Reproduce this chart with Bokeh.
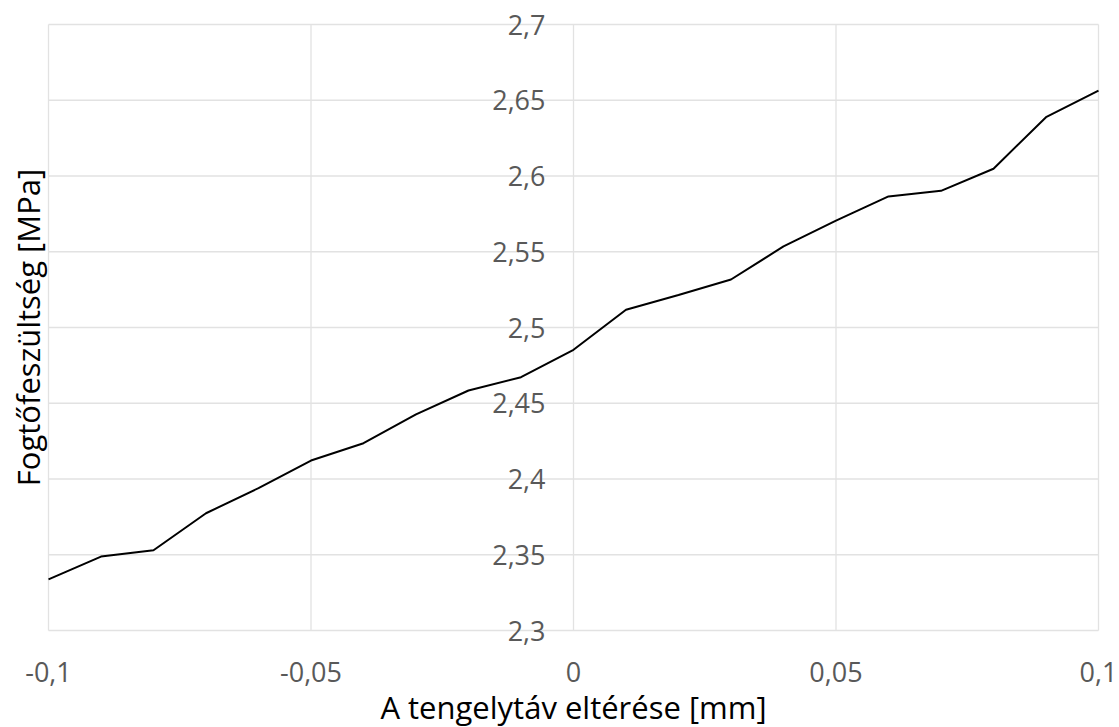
import math
from bokeh.plotting import figure
from bokeh.models import FixedTicker, CustomJSTickFormatter, Range1d, Label
from bokeh.embed import file_html
from bokeh.resources import INLINE

x_values = [-0.1, -0.09, -0.08, -0.07, -0.06, -0.05, -0.04, -0.03, -0.02, -0.01,
            0.0, 0.01, 0.02, 0.03, 0.04, 0.05, 0.06, 0.07, 0.08, 0.09, 0.1]
y_values = [2.3337, 2.3488, 2.3530, 2.3774, 2.3940, 2.4122, 2.4236, 2.4426, 2.4584, 2.4672,
            2.4853, 2.5117, 2.5215, 2.5317, 2.5535, 2.5706, 2.5865, 2.5902, 2.6048, 2.6388, 2.6564]
x_ticks = [-0.1, -0.05, 0.0, 0.05, 0.1]
y_ticks = [2.3, 2.35, 2.4, 2.45, 2.5, 2.55, 2.6, 2.65, 2.7]
x_min, x_max = -0.1, 0.1
y_min, y_max = 2.3, 2.7
x_title = "A tengelytáv eltérése [mm]"
y_title = "Fogtőfeszültség [MPa]"

# layout (pixels): where the data box sits inside the 1119x727 canvas
W, H = 1119, 727
BOX_L, BOX_R, BOX_T, BOX_B = 48, 1098, 24, 630

FONT = "Open Sans"
TICK_COLOR = "#595959"
GRID_COLOR = "#e2e2e2"

# ranges chosen so that the whole canvas is the plotting frame
px_per_x = (BOX_R - BOX_L) / (x_max - x_min)
px_per_y = (BOX_B - BOX_T) / (y_max - y_min)
xr = Range1d(x_min - BOX_L / px_per_x, x_max + (W - BOX_R) / px_per_x)
yr = Range1d(y_min - (H - BOX_B) / px_per_y, y_max + BOX_T / px_per_y)


def xdata(px):
    return xr.start + px / px_per_x


def ydata(py):
    return yr.end - py / px_per_y


p = figure(width=W, height=H, output_backend="svg", toolbar_location=None,
           x_range=xr, y_range=yr,
           min_border_left=0, min_border_right=0, min_border_top=0, min_border_bottom=0)
p.outline_line_color = None
p.background_fill_color = "white"
p.border_fill_color = "white"
p.xgrid.visible = False
p.ygrid.visible = False

# grid lines over the data box
p.segment(x0=[x_min] * len(y_ticks), y0=y_ticks, x1=[x_max] * len(y_ticks), y1=y_ticks,
          line_color=GRID_COLOR, line_width=1.3)
p.segment(x0=x_ticks, y0=[y_min] * len(x_ticks), x1=x_ticks, y1=[y_max] * len(x_ticks),
          line_color=GRID_COLOR, line_width=1.3)

p.line(x_values, y_values, line_color="black", line_width=2)

fmt = CustomJSTickFormatter(code="""
    let s = (Math.round(tick * 1000) / 1000).toString();
    return s.replace('.', ',');
""")

# x axis along the bottom of the data box
xa = p.xaxis[0]
xa.fixed_location = y_min
xa.ticker = FixedTicker(ticks=x_ticks)
xa.formatter = fmt
xa.axis_line_color = None
xa.major_tick_line_color = None
xa.minor_tick_line_color = None
xa.major_label_text_font = FONT
xa.major_label_text_font_size = "27px"
xa.major_label_text_color = TICK_COLOR
xa.major_label_standoff = 25

# y axis crossing at x = 0
ya = p.yaxis[0]
ya.fixed_location = 0
ya.ticker = FixedTicker(ticks=y_ticks)
ya.formatter = fmt
ya.axis_line_color = None
ya.major_tick_line_color = None
ya.minor_tick_line_color = None
ya.major_label_text_font = FONT
ya.major_label_text_font_size = "27px"
ya.major_label_text_color = TICK_COLOR
ya.major_label_standoff = 22

# axis titles
p.add_layout(Label(x=(x_min + x_max) / 2, y=ydata(706), text=x_title,
                   text_font=FONT, text_font_size="31px", text_color="black",
                   text_align="center", text_baseline="middle"))
p.add_layout(Label(x=xdata(27), y=(y_min + y_max) / 2, text=y_title, angle=math.pi / 2,
                   text_font=FONT, text_font_size="31px", text_color="black",
                   text_align="center", text_baseline="middle"))

open("out.html", "w").write(file_html(p, INLINE))
